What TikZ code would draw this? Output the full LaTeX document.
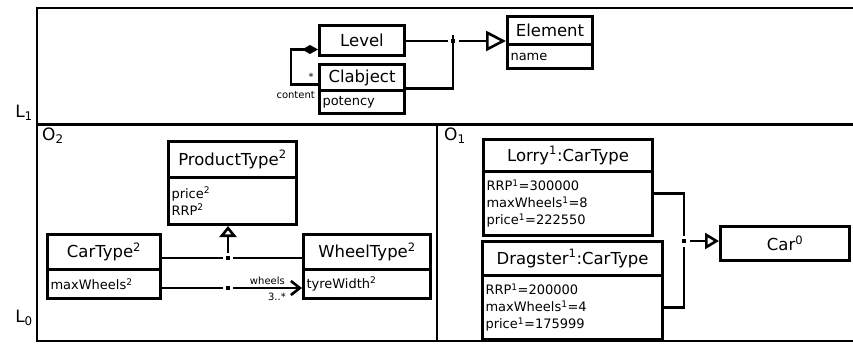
\documentclass[tikz,border=0pt]{standalone}
\usepackage{fontspec}
\setmainfont{DejaVu Sans}
\usetikzlibrary{arrows.meta}
\begin{document}
\begin{tikzpicture}[x=1pt,y=-1pt,
  frame/.style={line width=2.5pt},
  ttl/.style={draw, line width=3pt, anchor=north west, inner sep=0pt, font=\fontsize{16.5}{19}\selectfont},
  attr/.style={draw, line width=3pt, anchor=north west, inner xsep=3pt, inner ysep=0pt, align=left, font=\fontsize{13}{17}\selectfont},
  conn/.style={line width=2.6pt},
  dot/.style={fill=black, inner sep=0pt, minimum size=4.5pt},
  lbl/.style={inner sep=0pt, font=\fontsize{17}{20}\selectfont},
  small/.style={inner sep=0pt, font=\fontsize{10}{12}\selectfont}]
\useasboundingbox (0,0) rectangle (853,343);
% frame
\draw[frame] (860,8) -- (37,8) -- (37,341) -- (860,341);
\draw[frame] (37,124.5) -- (860,124.5);
\draw[frame] (437,124.5) -- (437,341);
\node[lbl, anchor=east] (L1) at (33,113) {L\textsubscript{1}};
\node[lbl, anchor=east] (L0) at (33,318) {L\textsubscript{0}};
\node[lbl, anchor=north west] (O2) at (42,128) {O\textsubscript{2}};
\node[lbl, anchor=north west] (O1) at (444,128) {O\textsubscript{1}};
% top level
\node[ttl, minimum width=85pt, minimum height=30pt] (level) at (318,24) {Level};
\node[ttl, minimum width=85pt, minimum height=26pt] (clab) at (318,63) {Clabject};
\node[attr, text width=79pt, minimum height=23pt] (clabA) at (318,89) {potency};
\node[ttl, minimum width=85pt, minimum height=28pt] (elem) at (506,15) {Element};
\node[attr, text width=79pt, minimum height=24pt] (elemA) at (506,43) {name};
\draw[conn, {Diamond[length=16pt,width=9pt]}-] ([yshift=-9pt]level.west) -- ++(-27,0) |- ([yshift=-7pt]clab.west);
\node[small, anchor=center] (star1) at (311,77) {*};
\node[small, anchor=east] (content) at (315,95) {content};
\coordinate (j1) at (453,41);
\draw[conn] (level.east |- j1) -- ([xshift=-5pt]j1);
\node[dot] (d1) at (j1) {};
\draw[conn, -{Triangle[open,length=20pt,width=20pt]}] ([xshift=6pt]j1) -- (elem.west |- j1);
\draw[conn] ([yshift=-11pt]clab.east) -| ([yshift=6pt]j1);
% O2
\node[ttl, minimum width=128pt, minimum height=36pt] (pt) at (167,140) {ProductType\textsuperscript{2}};
\node[attr, text width=122pt, minimum height=47pt] (ptA) at (167,176) {price\textsuperscript{2}\\RRP\textsuperscript{2}};
\node[ttl, minimum width=113pt, minimum height=35pt] (ct) at (46,233) {CarType\textsuperscript{2}};
\node[attr, text width=107pt, minimum height=29pt] (ctA) at (46,268) {maxWheels\textsuperscript{2}};
\node[ttl, minimum width=127pt, minimum height=35pt] (wt) at (302,233) {WheelType\textsuperscript{2}};
\node[attr, text width=121pt, minimum height=29pt] (wtA) at (302,268) {tyreWidth\textsuperscript{2}};
\coordinate (j2) at (228,258);
\draw[conn] (ct.east |- j2) -- ([xshift=-5pt]j2);
\draw[conn] ([xshift=5pt]j2) -- (wt.west |- j2);
\node[dot] (d2) at (j2) {};
\draw[conn, -{Triangle[open,length=11pt,width=17pt]}] ([yshift=5pt]j2) -- (j2 |- ptA.south);
\coordinate (j3) at (228,288);
\draw[conn] (ctA.east |- j3) -- ([xshift=-5pt]j3);
\node[dot] (d3) at (j3) {};
\draw[conn, -{Straight Barb[length=9pt,width=14pt]}] ([xshift=5pt]j3) -- (wtA.west |- j3);
\node[small, anchor=east] (wheels) at (285,281) {wheels};
\node[small, anchor=east] (mult) at (286,297) {3..*};
% O1
\node[ttl, minimum width=169pt, minimum height=32pt] (lorry) at (482,138) {Lorry\textsuperscript{1}:CarType};
\node[attr, text width=163pt, minimum height=64pt] (lorryA) at (482,170) {RRP\textsuperscript{1}=300000\\maxWheels\textsuperscript{1}=8\\price\textsuperscript{1}=222550};
\node[ttl, minimum width=180pt, minimum height=34pt] (drag) at (481,240) {Dragster\textsuperscript{1}:CarType};
\node[attr, text width=174pt, minimum height=64pt] (dragA) at (481,274) {RRP\textsuperscript{1}=200000\\maxWheels\textsuperscript{1}=4\\price\textsuperscript{1}=175999};
\node[ttl, minimum width=129pt, minimum height=34pt] (car) at (719,225) {Car\textsuperscript{0}};
\coordinate (j4) at (684,241);
\draw[conn] ([yshift=10pt]lorryA.east) -| ([yshift=5pt]j4);
\draw[conn] (dragA.east) -| ([yshift=-6pt]j4);
\node[dot] (d4) at (j4) {};
\draw[conn, -{Triangle[open,length=14pt,width=16pt]}] ([xshift=6pt]j4) -- (car.west |- j4);
\end{tikzpicture}
\end{document}
